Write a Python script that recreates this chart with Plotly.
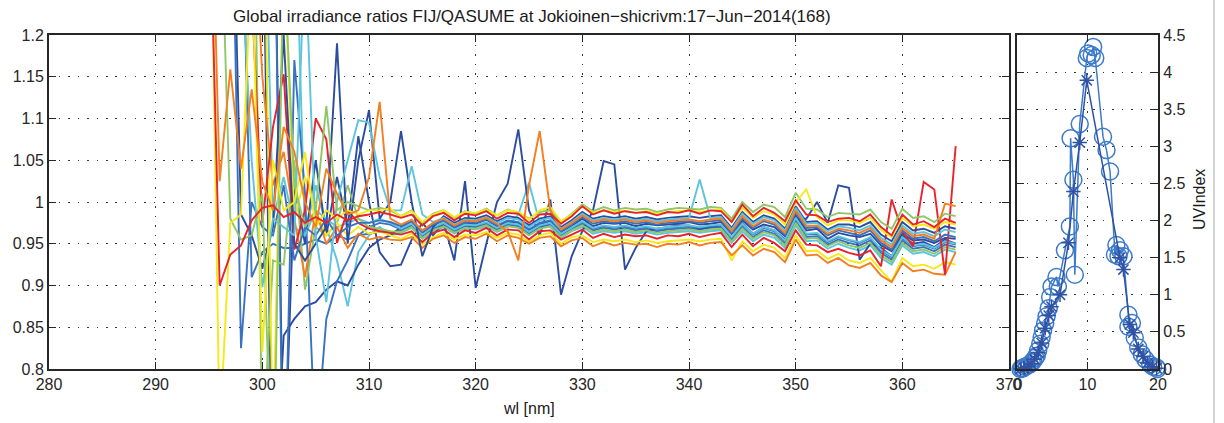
import plotly.graph_objects as go

# ---------------- data ----------------
wl = list(range(295, 366))  # wavelength grid [nm]

N = None
r1 = [1.40, .900, .937, .948, .978, .993, .996, .982, .988, .975, .982, .975, .985, .978, .983, .985, .988, .985,
      .981, .985, .972, .983, .987, .978, .986, .984, .989, .980, .987, .986, .975, .985, .986, .974, .983,
      .995, .985, .990, .986, .989, .987, .988, .984, .988, .987, .990, .986, .990, .989, .976,
      .997, .983, .993, .987, .977, 1.002, .985, .984, .976, .980,
      .981, .977, .985, .970, .960, .985, .973, .977, .970, .980, .975]
r2 = [N, N, N, 1.60, 1.25, .975, 1.09, 1.153, .943, .99, 1.10, 1.075, .951, .99, .975, .968, .965, .963,
      .961, .965, .952, .963, .967, .958, .966, .963, .969, .960, .967, .966, .955, .965, .966, .955, .961,
      .967, .957, .962, .958, .961, .959, .960, .956, .960, .959, .962, .958, .961, .963, .946,
      .961, .947, .957, .951, .941, .966, .949, .948, .940, .944,
      .939, .936, .942, .923, 1.003, .965, .947, 1.024, 1.015, .913, 1.067]
o1 = [1.50, 1.025, 1.159, 1.040, 1.135, 1.024, .99, 1.09, 1.06, 1.00, .97, 1.04, 1.01, .985, .99, 1.03, 1.12, .98,
      .973, .979, .966, .975, .980, .972, .978, .977, .981, .974, .965, .930, 1.020, 1.085, .990, .967, .975,
      .984, .976, .979, .977, .979, .976, .978, .975, .977, .978, .979, .977, .979, .980, .965,
      .983, .971, .979, .975, .963, .990, .971, .972, .962, .968,
      .966, .963, .969, .954, .946, .969, .959, .961, .956, .998, .995]
o2 = [N, N, N, N, 1.40, 1.15, 1.02, 1.06, .98, .91, .99, .95, .97, .945, .962, .955, .958, .955,
      .954, .958, .945, .956, .960, .951, .958, .956, .962, .953, .960, .957, .950, .957, .959, .947, .954,
      .957, .947, .952, .948, .951, .949, .950, .946, .950, .949, .952, .948, .951, .952, .936,
      .948, .936, .944, .940, .928, .955, .936, .937, .927, .933,
      .924, .921, .927, .912, .904, .927, .917, .919, .914, .913, .940]
y1 = [1.50, .72, .975, .985, 1.30, .82, 1.05, .99, 1.00, 1.06, .97, .99, .98, .99, .985, .99, .99, .992,
      .983, .989, .976, .985, .990, .982, .988, .987, .991, .984, .990, .988, .979, .990, .994, .977, .985,
      .995, .987, .990, .988, .990, .987, .989, .986, .988, .989, .990, .988, .990, .991, .976,
      .993, .981, .989, .985, .973, 1.000, 1.015, .982, .972, .978,
      .978, .975, .981, .966, .958, .981, .971, .973, .968, .976, .973]
y2 = [N, N, N, N, N, 1.50, .70, 1.30, .98, 1.03, .99, .96, .975, .96, .97, .962, .965, .96,
      .956, .962, .949, .958, .963, .955, .961, .960, .964, .957, .963, .961, .952, .960, .963, .950, .958,
      .960, .952, .955, .953, .955, .952, .954, .951, .953, .954, .955, .953, .955, .956, .930,
      .953, .941, .949, .945, .933, .960, .941, .942, .932, .938,
      .930, .927, .933, .918, .905, .933, .923, .925, .920, .928, .925]
g1 = [N, 1.40, .98, .955, .96, 1.01, .62, 1.30, 1.02, .97, .99, 1.115, .99, 1.00, .995, .99, .993, .99,
      .983, .990, .975, .986, .990, .981, .989, .986, .992, .984, .991, .987, .980, .988, .990, .976, .986,
      .997, .989, .994, .990, .993, .991, .992, .988, .991, .993, .992, .991, .994, .993, .980,
      1.000, .988, .997, .994, .982, 1.011, .992, .991, .982, .987,
      .986, .985, .991, .976, .968, .992, .981, .983, .976, .986, .983]
g2 = [N, N, N, N, 1.60, .70, .93, .925, 1.05, .895, .97, .96, .975, 1.02, .98, .97, .968, .965,
      .964, .970, .957, .966, .971, .963, .969, .968, .972, .965, .971, .969, .960, .968, .971, .958, .966,
      .972, .964, .967, .965, .967, .964, .966, .963, .965, .966, .967, .965, .967, .968, .953,
      .968, .956, .964, .960, .948, .975, .956, .957, .947, .953,
      .948, .945, .951, .936, .928, .951, .941, .943, .938, .946, .943]
c1 = [N, N, 1.50, 1.30, 1.05, .898, .98, .97, .96, 1.30, .96, .88, 1.00, 1.05, 1.098, 1.095, 1.03, .99,
      .990, 1.043, .985, .976, .981, .973, .979, .978, .982, .975, .981, .979, .970, .978, .981, .968, .976,
      .986, .978, .981, .979, .981, .978, .980, .977, .979, .980, .981, 1.027, .981, .982, .967,
      .986, .974, .982, .978, .966, .993, .974, .975, .965, .971,
      .969, .966, .972, .957, .949, .972, .962, .964, .959, .967, .964]
c2 = [N, N, N, N, N, 1.50, .98, 1.03, .97, .96, .99, .98, .97, .975, .98, .975, .98, .975,
      .968, .974, .961, .970, .975, .967, .973, .972, .976, .969, .975, .973, .964, .972, .975, .962, .970,
      .977, .969, .972, .970, .972, .969, .971, .968, .970, .971, .972, .970, .972, .973, .958,
      .974, .962, .970, .966, .954, .981, .962, .963, .953, .959,
      .955, .952, .958, .943, .935, .958, .948, .950, .945, .953, .950]
c3 = [N, N, N, N, N, N, N, N, 1.40, .96, 1.02, .97, .93, .875, .94, .96, .97, .96,
      .963, .969, .956, .965, .970, .962, .968, .967, .971, .964, .970, .985, 1.023, .975, .970, .957, .965,
      .970, .962, .965, .963, .965, .962, .964, .961, .963, .964, .965, .963, .965, .966, .951,
      .965, .953, .961, .957, .945, .972, .953, .954, .944, .950,
      .945, .942, .948, .933, .925, .948, .938, .940, .935, .943, .940]
m1 = [N, N, 1.50, .825, 1.00, .97, .96, 1.02, .93, .97, .96, .98, .96, .97, .975, .975, .978, .976,
      .971, .977, .964, .973, .978, .970, .976, .975, .979, .972, .978, .976, .967, .975, .978, .965, .973,
      .982, .974, .977, .975, .977, .974, .976, .973, .975, .976, .977, .975, .977, .978, .963,
      .981, .969, .977, .973, .961, .988, .969, .970, .960, .966,
      .963, .960, .966, .951, .943, .966, .956, .958, .953, .961, .958]
m2 = [N, N, N, N, N, N, 1.50, .60, 1.17, 1.01, .70, .86, .905, .93, .96, .97, .975, .973,
      .967, .973, .960, .969, .974, .966, .972, .971, .975, .968, .974, .972, .963, .971, .974, .961, .969,
      .976, .968, .971, .969, .971, .968, .970, .967, .969, .970, .971, .969, .971, .972, .957,
      .973, .961, .969, .965, .953, .980, .961, .962, .952, .958,
      .954, .951, .957, .942, .934, .957, .947, .949, .944, .952, .949]
m3 = [N, N, N, 1.40, .91, .94, .95, .945, .945, .95, .955, .95, .96, .955, .96, .962, .965, .963,
      .966, .972, .959, .968, .973, .965, .971, .970, .974, .967, .973, .971, .962, .970, .973, .960, .968,
      .974, .966, .969, .967, .969, .966, .968, .965, .967, .968, .969, .967, .969, .970, .955,
      .970, .958, .966, .962, .950, .977, .958, .959, .949, .955,
      .951, .948, .954, .939, .931, .954, .944, .946, .941, .949, .946]
d1 = [N, N, 1.50, .985, .96, .92, .97, 1.20, .95, .93, .95, .97, 1.19, .95, 1.05, 1.11, .98, 1.00,
      1.085, 1.000, .935, .970, .983, .975, .981, .980, .984, .977, .983, .981, .972, .980, .983, .970, .978,
      .988, .980, .983, .981, .983, .980, .982, .979, .981, .982, .983, .981, .983, .984, .969,
      .988, .976, .984, .980, .968, .995, .976, .977, .967, .973,
      .973, .970, .976, .961, .953, .976, .966, .968, .963, .971, .968]
d2 = [N, N, N, N, N, 1.40, .60, .84, .86, .875, .88, .895, .905, .90, .925, .945, .955, .96,
      .970, .977, .962, .972, .978, .969, .974, .974, .979, .971, .976, .975, .967, .973, .977, .964, .971,
      .980, .971, .975, .974, .975, .971, .974, .972, .973, .974, .976, .973, .974, .976, .962,
      .978, .967, .973, .970, .959, .984, .966, .968, .956, .963,
      .960, .958, .962, .948, .941, .962, .954, .955, .951, .957, .956]
d3 = [N, N, N, N, N, N, 1.50, .65, 1.02, .95, 1.05, .96, 1.03, .97, 1.079, 1.00, .94, .923,
      .925, .955, .975, .960, .975, .930, 1.025, .897, .950, 1.000, 1.022, 1.087, .990, .960, 1.003, .889, .935,
      .965, .990, 1.049, 1.045, .919, .945, .965, .968, .970, .972, .972, .968, .970, .972, .957,
      .975, .962, .970, .966, .955, .980, .980, 1.000, .975, 1.020,
      1.017, .931, .950, .945, .935, .960, .950, .952, .946, .955, .950]

# UV index (time of day [h], UVIndex)
t_circ = [0.5, 0.7, 0.9, 1.1, 1.4, 1.8, 2.1, 2.3, 2.6, 2.8, 3.0, 3.3, 3.5, 3.7, 4.0, 4.2, 4.5, 4.7, 4.9,
          5.6, 5.8, 6.8, 7.5, 7.6, 8.0, 8.2, 8.9, 9.9, 10.1, 10.6, 10.8, 11.1, 12.2, 12.7, 13.2,
          13.9, 14.1, 14.4, 14.6, 15.1, 15.8, 15.8, 16.3, 16.7, 17.2, 17.7, 18.2, 18.9, 19.3, 19.8, 19.9]
uv_circ = [0.0, 0.01, 0.01, 0.03, 0.04, 0.06, 0.09, 0.11, 0.15, 0.18, 0.25, 0.34, 0.43, 0.52, 0.62, 0.71, 0.82, 0.97, 1.11,
           1.24, 1.11, 1.60, 1.92, 3.11, 2.55, 1.27, 3.30, 4.19, 4.25, 4.23, 4.34, 4.19, 3.13, 2.95, 2.66,
           1.54, 1.67, 1.52, 1.60, 1.52, 0.73, 0.57, 0.62, 0.42, 0.29, 0.20, 0.13, 0.06, 0.03, 0.02, 0.0]
t_star = [0.5, 1.0, 1.5, 2.0, 2.5, 3.0, 3.5, 4.0, 4.5, 4.9, 6.1, 7.3, 8.0, 8.9, 9.9,
          14.6, 15.1, 16.0, 16.5, 17.2, 17.9, 18.5, 19.2, 19.8]
uv_star = [0.0, 0.01, 0.03, 0.07, 0.13, 0.22, 0.35, 0.55, 0.72, 0.84, 1.00, 1.70, 2.39, 3.05, 3.89,
           1.50, 1.34, 0.60, 0.49, 0.27, 0.17, 0.08, 0.03, 0.01]

x_ticks = [280, 290, 300, 310, 320, 330, 340, 350, 360, 370]
y_ticks = [0.8, 0.85, 0.9, 0.95, 1.0, 1.05, 1.1, 1.15, 1.2]
y_tick_text = ["0.8", "0.85", "0.9", "0.95", "1", "1.05", "1.1", "1.15", "1.2"]
uv_ticks = [0, 0.5, 1, 1.5, 2, 2.5, 3, 3.5, 4, 4.5]
uv_tick_text = ["0", "0.5", "1", "1.5", "2", "2.5", "3", "3.5", "4", "4.5"]

# ---------------- styles ----------------
DB, MB, CY, GR, YE, OR, RE = "#2c4c9f", "#3a72c2", "#5cc4dc", "#8fc767", "#f5e916", "#f47e20", "#e8232a"
series = [(c3, CY), (m3, MB), (d3, DB), (d2, DB), (m2, MB), (c2, CY), (g2, GR), (y2, YE), (o2, OR), (r2, RE),
          (d1, DB), (m1, MB), (c1, CY), (g1, GR), (y1, YE), (o1, OR), (r1, RE)]

W, H = 1224, 423
L0, L1, R0, R1, T, B = 49, 1009, 1017, 1158, 35, 369
FONT = "Liberation Sans, Arial, Helvetica, sans-serif"
AX = "#262626"

fig = go.Figure()
for vals, col in series:
    fig.add_trace(go.Scatter(x=wl, y=vals, mode="lines", line=dict(color=col, width=1.9),
                             showlegend=False, hoverinfo="skip", xaxis="x", yaxis="y"))

fig.add_trace(go.Scatter(x=t_circ, y=uv_circ, mode="lines+markers",
                         line=dict(color="#3d7acb", width=1.5),
                         marker=dict(symbol="circle-open", size=17, color="#3d7acb", line=dict(width=1.5)),
                         cliponaxis=False, showlegend=False, xaxis="x2", yaxis="y2"))
fig.add_trace(go.Scatter(x=t_star, y=uv_star, mode="lines+markers",
                         line=dict(color="#2f52a3", width=1.5),
                         marker=dict(symbol="asterisk-open", size=12, color="#2f52a3", line=dict(width=1.5)),
                         cliponaxis=False, showlegend=False, xaxis="x2", yaxis="y2"))

ax_common = dict(showline=True, linecolor=AX, linewidth=2, mirror="ticks", ticks="inside", ticklen=7,
                 tickcolor=AX, tickwidth=1, showgrid=True, gridcolor="#333333", gridwidth=1,
                 griddash="1.5px,8px", zeroline=False, automargin=False,
                 tickfont=dict(family=FONT, size=16, color=AX))

ydom = [1 - B / H, 1 - T / H]
fig.update_layout(
    width=W, height=H, autosize=False, margin=dict(l=0, r=0, t=0, b=0, pad=0, autoexpand=False),
    paper_bgcolor="white", plot_bgcolor="white", showlegend=False,
    xaxis=dict(domain=[L0 / W, L1 / W], range=[280, 370], tickvals=x_ticks, anchor="y", **ax_common),
    yaxis=dict(domain=ydom, range=[0.8, 1.2], tickvals=y_ticks, ticktext=y_tick_text, anchor="x", **ax_common),
    xaxis2=dict(domain=[R0 / W, R1 / W], range=[0, 20], tickvals=[0, 10, 20], anchor="y2", **ax_common),
    yaxis2=dict(domain=ydom, range=[0, 4.5], tickvals=uv_ticks, ticktext=uv_tick_text, side="right",
                anchor="x2", **ax_common),
    annotations=[
        dict(text="Global irradiance ratios FIJ/QASUME at Jokioinen\u2212shicrivm:17\u2212Jun\u22122014(168)",
             x=532 / W, y=1 - 17 / H, xref="paper", yref="paper", showarrow=False,
             font=dict(family=FONT, size=17, color="#1a1a1a"), xanchor="center", yanchor="middle"),
        dict(text="wl [nm]", x=529 / W, y=1 - 408 / H, xref="paper", yref="paper", showarrow=False,
             font=dict(family=FONT, size=16, color="#1a1a1a"), xanchor="center", yanchor="middle"),
        dict(text="UVIndex", x=1199 / W, y=1 - 200 / H, xref="paper", yref="paper", showarrow=False,
             textangle=-90, font=dict(family=FONT, size=16, color="#1a1a1a"), xanchor="center", yanchor="middle"),
    ],
    shapes=[dict(type="line", xref="paper", yref="paper", x0=1214 / W, x1=1214 / W, y0=0, y1=1,
                 line=dict(color="#d4d4d4", width=2))],
)

fig.write_html("out.html", config={"responsive": False, "displayModeBar": False},
               post_script="document.body.style.margin='0';document.body.style.overflow='hidden';")
